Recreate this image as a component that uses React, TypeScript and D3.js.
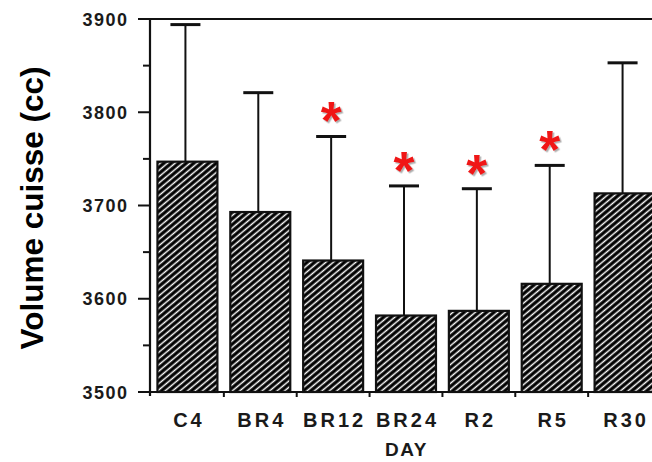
import React from 'react';
import * as d3 from 'd3';

const categories = ['C4', 'BR4', 'BR12', 'BR24', 'R2', 'R5', 'R30'];
const means = [3747, 3693, 3641, 3582, 3587, 3616, 3713];
const upperErrors = [3894, 3821, 3774, 3721, 3718, 3743, 3853];
const significant = [false, false, true, true, true, true, false];
const yTicks = [3500, 3600, 3700, 3800, 3900];
const yMinorTicks = [3550, 3650, 3750, 3850];
const yLabel = 'Volume cuisse (cc)';
const xLabel = 'DAY';

export default function App() {
  const W = 652;
  const H = 462;
  const x = d3.scaleBand<string>().domain(categories).range([151, 661]).padding(0);
  const y = d3.scaleLinear().domain([3500, 3900]).range([392, 19]);
  const bw = x.bandwidth();
  const barW = bw * 0.823;
  const axisX = 150;
  const font = '"Liberation Sans", Arial, Helvetica, sans-serif';
  const red = '#f01818';

  return (
    <svg width={W} height={H} style={{ position: 'absolute', left: 0, top: 0, background: '#fff' }}>
      <defs>
        <pattern id="hatch" patternUnits="userSpaceOnUse" width={10} height={4.8} patternTransform="rotate(-40)">
          <rect x={0} y={0} width={10} height={4.8} fill="#000" />
          <rect x={0} y={1.6} width={10} height={1.5} fill="#fff" />
        </pattern>
        <filter id="shadow" x="-50%" y="-50%" width="200%" height="200%">
          <feDropShadow dx={1.5} dy={1.5} stdDeviation={0.6} floodColor="#999" floodOpacity={0.8} />
        </filter>
      </defs>
      <rect x={0} y={0} width={W} height={H} fill="#fff" />

      {/* frame top line */}
      <line x1={138} x2={W} y1={y(3900)} y2={y(3900)} stroke="#111" strokeWidth={2.2} />
      {/* y axis */}
      <line x1={axisX} x2={axisX} y1={y(3900)} y2={396} stroke="#111" strokeWidth={2.2} />
      {/* x axis */}
      <line x1={138} x2={W} y1={y(3500)} y2={y(3500)} stroke="#111" strokeWidth={2.2} />

      {yTicks.map((t) => (
        <g key={t}>
          <line x1={138} x2={axisX} y1={y(t)} y2={y(t)} stroke="#111" strokeWidth={2} />
          <text x={128.5} y={y(t) + 6.5} textAnchor="end" fontFamily={font} fontWeight={700} fontSize={18} letterSpacing={1.5} fill="#1a1a1a">
            {t}
          </text>
        </g>
      ))}
      {yMinorTicks.map((t) => (
        <line key={t} x1={143} x2={axisX} y1={y(t)} y2={y(t)} stroke="#111" strokeWidth={2} />
      ))}

      {categories.slice(1).map((c) => (
        <line key={c} x1={x(c)!} x2={x(c)!} y1={y(3500)} y2={y(3500) + 5} stroke="#111" strokeWidth={2} />
      ))}

      {categories.map((c, i) => {
        const cx = x(c)! + bw / 2;
        const sx = cx - 2;
        return (
          <g key={c}>
            <line x1={sx} x2={sx} y1={y(means[i])} y2={y(upperErrors[i])} stroke="#111" strokeWidth={2} />
            <line x1={sx - 15} x2={sx + 15} y1={y(upperErrors[i])} y2={y(upperErrors[i])} stroke="#111" strokeWidth={3} />
            <rect x={cx - barW / 2} y={y(means[i])} width={barW} height={y(3500) - y(means[i])} fill="url(#hatch)" stroke="#111" strokeWidth={2.2} />
            <text x={cx + 1.5} y={427} textAnchor="middle" fontFamily={font} fontWeight={700} fontSize={20} letterSpacing={3} fill="#1a1a1a">
              {c}
            </text>
            {significant[i] && (
              <text x={sx} y={y(upperErrors[i]) + 3} textAnchor="middle" fontFamily={font} fontWeight={700} fontSize={54} fill={red} filter="url(#shadow)">*</text>
            )}
          </g>
        );
      })}

      <text x={406.5} y={456} textAnchor="middle" fontFamily={font} fontWeight={700} fontSize={19} letterSpacing={1.5} fill="#1a1a1a">
        {xLabel}
      </text>

      <text transform={`translate(43,208) rotate(-90)`} textAnchor="middle" fontFamily={font} fontWeight={700} fontSize={31.5} fill="#000">
        {yLabel}
      </text>
    </svg>
  );
}
